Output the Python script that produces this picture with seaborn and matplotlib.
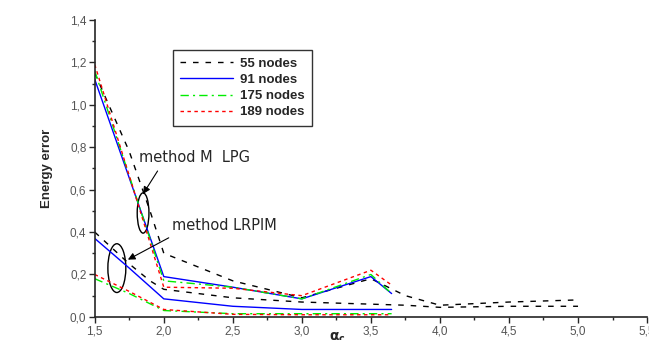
import pandas as pd
import matplotlib.pyplot as plt
import seaborn as sns
from matplotlib.patches import Ellipse
from matplotlib.ticker import MultipleLocator, FuncFormatter

# method MLPG (upper bundle)
x_55 = [1.5, 1.75, 1.9, 2.0, 2.5, 3.0, 3.5, 3.75, 4.0, 4.5, 5.0]
mlpg_55 = [1.15, 0.78, 0.50, 0.30, 0.17, 0.09, 0.18, 0.10, 0.055, 0.07, 0.08]
x_rest = [1.5, 2.0, 2.5, 3.0, 3.5, 3.65]
mlpg_91 = [1.12, 0.19, 0.14, 0.085, 0.19, 0.11]
mlpg_175 = [1.16, 0.17, 0.14, 0.085, 0.20, 0.11]
mlpg_189 = [1.19, 0.14, 0.135, 0.10, 0.22, 0.15]

# method LRPIM (lower bundle)
lrpim_55 = [0.40, 0.25, 0.17, 0.13, 0.09, 0.07, 0.06, 0.055, 0.045, 0.05, 0.05]
x_low = [1.5, 1.75, 2.0, 2.5, 3.0, 3.5, 3.65]
lrpim_91 = [0.37, 0.23, 0.085, 0.05, 0.035, 0.035, 0.035]
lrpim_175 = [0.18, 0.11, 0.03, 0.015, 0.015, 0.015, 0.015]
lrpim_189 = [0.20, 0.12, 0.035, 0.012, 0.01, 0.01, 0.01]

labels = ['55 nodes', '91 nodes', '175 nodes', '189 nodes']
colors = ['black', '#0000ff', '#00ee00', '#ff0000']
dashes = [(4, 5), (None, None), (6, 3, 1.5, 3), (2.5, 2.5)]

sns.set_style('ticks')
plt.rcParams['font.family'] = ['Liberation Sans', 'DejaVu Sans']

fig = plt.figure(figsize=(6.49, 3.40), dpi=100)
ax = fig.add_axes([0.146, 0.068, 0.851, 0.873])

upper = [(x_55, mlpg_55), (x_rest, mlpg_91), (x_rest, mlpg_175), (x_rest, mlpg_189)]
lower = [(x_55, lrpim_55), (x_low, lrpim_91), (x_low, lrpim_175), (x_low, lrpim_189)]

for i in range(4):
    for j, (xs, ys) in enumerate([upper[i], lower[i]]):
        df = pd.DataFrame({'x': xs, 'y': ys})
        sns.lineplot(data=df, x='x', y='y', ax=ax, color=colors[i], lw=1,
                     label=labels[i] if j == 0 else None)
        l = ax.lines[-1]
        if dashes[i][0] is not None:
            l.set_dashes(dashes[i])

ax.set_xlim(1.5, 5.5)
ax.set_ylim(0.0, 1.4)
ax.xaxis.set_major_locator(MultipleLocator(0.5))
ax.xaxis.set_minor_locator(MultipleLocator(0.25))
ax.yaxis.set_major_locator(MultipleLocator(0.2))
ax.yaxis.set_minor_locator(MultipleLocator(0.1))
comma = FuncFormatter(lambda v, p: f'{v:.1f}'.replace('.', ','))
ax.xaxis.set_major_formatter(comma)
ax.yaxis.set_major_formatter(comma)
ax.tick_params(axis='both', which='major', direction='out', length=4, width=1,
               labelsize=8.5, labelcolor='#555555', pad=2)
ax.tick_params(axis='both', which='minor', direction='out', length=2.5, width=1)
for s in ['top', 'right']:
    ax.spines[s].set_visible(False)
for s in ['left', 'bottom']:
    ax.spines[s].set_linewidth(1.2)

ax.set_ylabel('Energy error', fontsize=9.5, fontweight='bold', labelpad=12)
ax.set_xlabel(r'$\mathbf{\alpha_c}$', fontsize=10, labelpad=0)
ax.xaxis.set_label_coords(0.44, -0.045)

leg = ax.legend(loc='upper left', bbox_to_anchor=(0.13, 0.92), fontsize=9.5,
                frameon=True, fancybox=False, handlelength=4.0, handletextpad=0.5,
                borderpad=0.55, labelspacing=0.3)
leg.get_frame().set_edgecolor('black')
leg.get_frame().set_linewidth(1)
for t in leg.get_texts():
    t.set_fontweight('bold')

ax.add_patch(Ellipse((1.85, 0.49), 0.085, 0.19, fill=False, color='black', lw=1))
ax.add_patch(Ellipse((1.66, 0.23), 0.13, 0.23, fill=False, color='black', lw=1))
ax.annotate('method M  LPG', xy=(1.85, 0.58), xytext=(1.82, 0.75), fontsize=10.5,
            va='center', ha='left', family=['DejaVu Sans'],
            arrowprops=dict(arrowstyle='-|>', color='black', lw=0.8,
                            relpos=(0.2, 0.0), shrinkA=2, shrinkB=0))
ax.annotate('method LRPIM', xy=(1.74, 0.27), xytext=(2.06, 0.43), fontsize=10.5,
            va='center', ha='left', family=['DejaVu Sans'],
            arrowprops=dict(arrowstyle='-|>', color='black', lw=0.8,
                            relpos=(0.05, 0.0), shrinkA=2, shrinkB=0))

fig.savefig('out.png', dpi=100)
